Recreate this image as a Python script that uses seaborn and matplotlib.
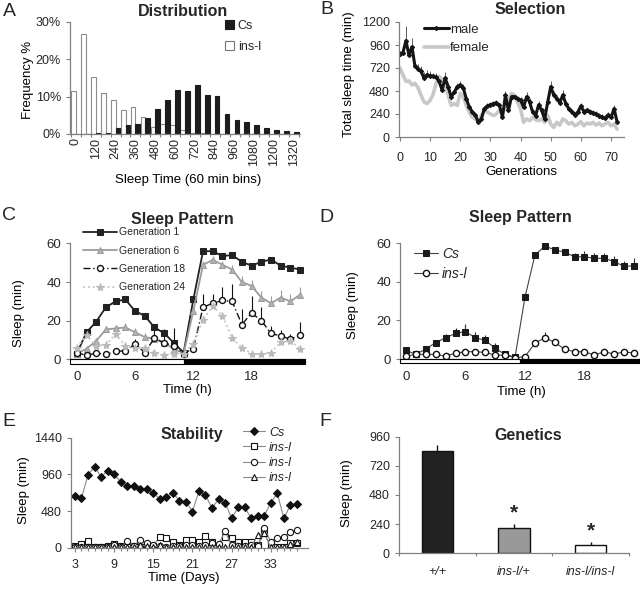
import matplotlib.pyplot as plt
import pandas as pd
import seaborn as sns
from matplotlib.patches import Rectangle


W, H = 640, 589
GRAY = "#808080"

# A: distribution of sleep time (60 min bins)
BINS = list(range(0, 1321, 60))
CS_FREQ = [0, 0, 0.3, 0.3, 1.5, 2.4, 2.6, 4.3, 6.6, 9.2, 11.9, 11.4, 13.0, 10.5,
           10.2, 5.3, 3.7, 3.2, 2.3, 1.5, 1.0, 0.8, 0.5]
INSL_FREQ = [11.4, 26.8, 15.2, 10.9, 9.0, 6.3, 7.2, 4.5, 2.0, 2.6, 2.4, 1.0, 0.2, 0.4,
             0, 0, 0, 0, 0, 0, 0, 0, 0]

# B: selection over generations
GENERATIONS = list(range(0, 73))
MALE_SLEEP = [870, 880, 1005, 855, 940, 738, 713, 685, 614, 650,
              640, 632, 625, 580, 490, 615, 525, 420, 465, 525,
              543, 515, 400, 312, 260, 230, 153, 188, 295, 323,
              337, 348, 358, 330, 205, 437, 277, 420, 420, 400,
              383, 312, 420, 365, 260, 224, 337, 277, 188, 365,
              525, 437, 400, 358, 437, 348, 295, 260, 230, 260,
              323, 266, 277, 266, 252, 241, 224, 205, 195, 230,
              205, 295, 160]
MALE_ERR = [30, 40, 150, 60, 90, 40, 50, 60, 60, 50,
            50, 40, 40, 40, 50, 60, 40, 40, 40, 40,
            40, 40, 30, 30, 30, 30, 20, 20, 30, 30,
            30, 30, 30, 30, 30, 40, 30, 30, 30, 30,
            30, 30, 50, 40, 30, 30, 40, 30, 30, 40,
            60, 40, 40, 40, 50, 30, 30, 30, 30, 30,
            30, 30, 30, 30, 30, 30, 30, 30, 30, 30,
            30, 40, 30]
FEMALE_SLEEP = [720, 650, 580, 585, 543, 560, 515, 437, 365, 348,
                383, 444, 560, 632, 596, 543, 437, 330, 348, 330,
                455, 420, 330, 260, 205, 188, 160, 224, 277, 260,
                241, 224, 241, 277, 252, 312, 383, 455, 437, 365,
                295, 153, 188, 170, 205, 181, 170, 188, 153, 224,
                135, 100, 153, 124, 188, 170, 135, 153, 117, 135,
                160, 117, 146, 135, 153, 124, 146, 117, 135, 153,
                117, 135, 82]

# C: sleep pattern by generation
HOURS = list(range(0, 24))
GEN1 = [3, 14, 19.5, 27, 30, 31, 25, 22.5, 16.5, 13.5, 8.5, 3.5,
        31, 56, 56, 53.5, 54, 50.5, 48.5, 50.5, 51.7, 48.5, 47.5, 46.5]
GEN1_ERR = [0, 1, 1.5, 1.5, 2, 2, 1.5, 1.5, 2, 2, 2, 1,
            2, 1, 1, 1, 1.5, 1.5, 1.5, 1.5, 1.5, 1.5, 1.5, 1.5]
GEN6 = [3, 5.5, 9.5, 15.5, 16, 16.5, 14, 11.5, 10.5, 8.5, 5.5, 3,
        25, 49, 51.5, 49, 46.5, 40, 38, 32, 29, 32, 30, 33.5]
GEN6_ERR = [1, 1, 1.5, 2, 2, 2.5, 2, 2, 2, 2, 2, 1,
            2, 2, 2, 2, 2.5, 3, 3, 3.5, 4, 4, 4, 4]
GEN18 = [3.5, 2, 3.3, 2.5, 4.2, 4.3, 8, 3.5, 11, 8.5, 7, 3,
         5.5, 27, 29, 30.5, 30, 18, 24, 20, 13.5, 12, 10.5, 12.5]
GEN18_ERR = [1, 1, 1, 1, 1, 1.5, 2.5, 2, 4, 4, 9, 1,
             2, 7, 5, 7, 9, 8, 9, 7, 4, 3, 2.5, 7]
GEN24 = [6, 12.5, 7, 7.5, 13, 7, 6, 6, 3.5, 2, 3, 3,
         8, 20.5, 27.5, 22.5, 11, 6, 3, 2.5, 3.5, 9, 9.5, 5.5]
GEN24_ERR = [1, 1, 1, 1, 2, 1, 1, 1, 1, 1, 1, 1,
             1, 2, 2, 2, 1.5, 1, 1, 1, 1, 1, 1, 1]
LIGHT_END_C = 11

# D: Cs vs ins-l sleep pattern
CS_HOURLY = [4.5, 2.4, 5.2, 8.5, 11, 13.3, 14.2, 11, 9.7, 5.5, 2.4, 1,
             32, 53.8, 58.6, 56.6, 55.4, 53, 53, 52.2, 52.2, 50.5, 48, 48.4]
CS_HOURLY_ERR = [1, 1, 1.5, 1.5, 2, 3, 4, 3, 3, 3, 1, 0.5,
                 2, 1, 1, 1, 1, 2, 3, 3, 3, 3, 3, 4]
INSL_HOURLY = [1.5, 2.4, 2.4, 2.4, 1.5, 3, 3.8, 3.8, 3.4, 2, 2, 0.7,
               1.2, 8.2, 11, 8.7, 5, 3.8, 3.8, 2, 3.8, 2.5, 3.8, 3]
INSL_HOURLY_ERR = [0.5, 0.5, 0.5, 0.5, 0.5, 0.5, 1, 1, 1, 0.5, 0.5, 0.3,
                   0.5, 1, 3, 1, 1, 0.5, 0.5, 0.5, 0.5, 0.5, 0.5, 0.5]
LIGHT_END_D = 11.5

# E: stability over days
DAYS = list(range(3, 38))
CS_DAILY = [681, 646, 952, 1061, 930, 1004, 961, 865, 808, 812,
            764, 764, 720, 633, 659, 720, 616, 603, 472, 742,
            690, 515, 638, 590, 384, 528, 528, 384, 419, 419,
            590, 712, 384, 559, 572]
INSL_SQ = [26, 44, 87, 10, 15, 20, 44, 25, 15, 20,
           15, 10, 25, 144, 122, 70, 35, 100, 100, 79,
           153, 70, 26, 144, 122, 70, 70, 70, 30, 188,
           15, 10, 10, 57, 57]
INSL_CI = [5, 5, 5, 5, 5, 5, 35, 5, 87, 25,
           100, 57, 35, 25, 5, 25, 25, 30, 30, 25,
           30, 57, 44, 218, 30, 25, 25, 35, 25, 262,
           70, 131, 144, 201, 227]
INSL_TR = [5, 5, 5, 5, 5, 5, 5, 10, 10, 10,
           35, 20, 5, 30, 10, 10, 5, 5, 10, 10,
           5, 5, 10, 10, 5, 5, 10, 10, 160, 190,
           5, 5, 10, 44, 70]

# F: genetics
GENOTYPES = ["+/+", "ins-l/+", "ins-l/ins-l"]
GENO_SLEEP = [845, 206, 68]
GENO_ERR = [46, 35, 22]
GENO_COLORS = ["#222222", "#999999", "#ffffff"]


def px_axes(fig, left, top, right, bottom):
    return fig.add_axes([left / W, 1 - bottom / H, (right - left) / W, (bottom - top) / H])


def style_axes(ax):
    sns.despine(ax=ax)
    for side in ("left", "bottom"):
        ax.spines[side].set_color(GRAY)
        ax.spines[side].set_linewidth(0.9)
    ax.tick_params(which="both", direction="out", color=GRAY, width=0.8, labelsize=9)
    ax.tick_params(which="major", length=3)
    ax.tick_params(which="minor", length=2.5)


def label_axes(ax, xlabel=None, xpos=None, ylabel=None, ypos=None):
    bb = ax.get_position()
    if ylabel:
        ax.set_ylabel(ylabel, fontsize=9.5)
        x_px, y_px = ypos
        ax.yaxis.set_label_coords((x_px / W - bb.x0) / bb.width, ((1 - y_px / H) - bb.y0) / bb.height)
    if xlabel:
        ax.set_xlabel(xlabel, fontsize=9.5)
        x_px, y_px = xpos
        ax.xaxis.set_label_coords((x_px / W - bb.x0) / bb.width, ((1 - y_px / H) - bb.y0) / bb.height)


def fig_text(fig, x_px, y_px, text, **kw):
    fig.text(x_px / W, 1 - y_px / H, text, ha="center", va="center", **kw)


def up_errors(ax, x, y, err, color, lw=0.8):
    ax.errorbar(x, y, yerr=[[0] * len(err), err], fmt="none", ecolor=color, elinewidth=lw, capsize=0, zorder=1)


def light_dark_bar(ax, light_end):
    x0, x1 = ax.get_xlim()
    ax.add_patch(Rectangle((x0, -2.2), light_end - x0, 2.2, facecolor="white", edgecolor="black",
                           linewidth=0.8, clip_on=False, zorder=5))
    ax.add_patch(Rectangle((light_end, -2.2), x1 - light_end, 2.2, facecolor="black", edgecolor="black",
                           linewidth=0.8, clip_on=False, zorder=5))


def plot_distribution(fig):
    ax = px_axes(fig, 70, 22, 300, 134)
    n = len(BINS)
    df = pd.DataFrame({
        "bin": BINS * 2,
        "freq": INSL_FREQ + CS_FREQ,
        "strain": ["ins-l"] * n + ["Cs"] * n,
    })
    sns.barplot(data=df, x="bin", y="freq", hue="strain", hue_order=["ins-l", "Cs"],
                palette={"ins-l": "white", "Cs": "#1c1c1c"}, width=0.95, linewidth=0.8, ax=ax)
    for patch in ax.containers[0]:
        patch.set_edgecolor("#8c8c8c")
    for patch in ax.containers[1]:
        patch.set_edgecolor("#1c1c1c")
    style_axes(ax)
    ax.set_ylim(0, 30)
    ax.set_yticks([0, 10, 20, 30])
    ax.set_yticklabels(["0%", "10%", "20%", "30%"])
    ax.set_xlim(-0.6, n - 0.4)
    ax.set_xticks(range(0, n, 2))
    ax.set_xticklabels([str(b) for b in BINS[::2]], rotation=90)
    ax.tick_params(axis="x", which="major", length=0, pad=3)
    ax.set_xticks([i + 0.5 for i in range(-1, n)], minor=True)
    handles, labels = ax.get_legend_handles_labels()
    order = [labels.index("Cs"), labels.index("ins-l")]
    leg = ax.legend([handles[i] for i in order], [labels[i] for i in order], frameon=False, fontsize=9,
                    loc="upper left", bbox_to_anchor=(0.675, 1.02), borderaxespad=0, borderpad=0,
                    handlelength=0.7, handleheight=0.7, handletextpad=0.3, labelspacing=0.7)
    leg.legend_handles[0].set_edgecolor("#1c1c1c")
    leg.legend_handles[1].set_edgecolor("#777777")
    leg.legend_handles[1].set_linewidth(0.8)
    label_axes(ax, "Sleep Time (60 min bins)", (188, 174), "Frequency %", (34, 80))
    fig_text(fig, 183, 11, "Distribution", fontsize=11.5, fontweight="bold")
    fig_text(fig, 9, 12, "A", fontsize=14)


def plot_selection(fig):
    ax = px_axes(fig, 399, 22, 624, 137)
    sns.lineplot(x=GENERATIONS, y=FEMALE_SLEEP, color="#c8c8c8", linewidth=2.6, label="female", ax=ax)
    up_errors(ax, GENERATIONS, MALE_SLEEP, MALE_ERR, "#444444", lw=0.6)
    sns.lineplot(x=GENERATIONS, y=MALE_SLEEP, color="#151515", linewidth=2.2, marker="D", markersize=2.2,
                 markeredgecolor="#151515", label="male", ax=ax)
    style_axes(ax)
    ax.set_xlim(-0.3, 74.3)
    ax.set_ylim(0, 1200)
    ax.set_xticks(range(0, 71, 10))
    ax.set_yticks(range(0, 1201, 240))
    ax.tick_params(axis="x", pad=8)
    handles, labels = ax.get_legend_handles_labels()
    ax.legend(handles[::-1], labels[::-1], frameon=False, fontsize=9.5, loc="upper left",
              bbox_to_anchor=(0.11, 0.985), borderaxespad=0, borderpad=0,
              handlelength=1.9, handletextpad=0.1, labelspacing=0.45)
    label_axes(ax, "Generations", (521, 166), "Total sleep time (min)", (355, 74))
    fig_text(fig, 530, 9, "Selection", fontsize=11.5, fontweight="bold")
    fig_text(fig, 327, 10, "B", fontsize=14)


def plot_generation_pattern(fig):
    ax = px_axes(fig, 70, 243.5, 305, 359.3)
    series = [
        ("Generation 1", GEN1, GEN1_ERR, dict(color="#222222", linewidth=1.3, marker="s", markersize=4.2,
                                              markerfacecolor="#222222", markeredgecolor="#222222")),
        ("Generation 6", GEN6, GEN6_ERR, dict(color="#9c9c9c", linewidth=1.3, marker="^", markersize=5,
                                              markerfacecolor="#b4b4b4", markeredgecolor="#9c9c9c")),
        ("Generation 18", GEN18, GEN18_ERR, dict(color="#111111", linewidth=1.0, linestyle=(0, (5, 2, 1, 2)),
                                                 marker="o", markersize=4.3, markerfacecolor="white",
                                                 markeredgecolor="#111111", markeredgewidth=1.0)),
        ("Generation 24", GEN24, GEN24_ERR, dict(color="#cccccc", linewidth=1.3, linestyle=(0, (1.2, 1.5)),
                                                 marker="*", markersize=6, markerfacecolor="#bbbbbb",
                                                 markeredgecolor="#bbbbbb")),
    ]
    for name, values, err, kws in series:
        up_errors(ax, HOURS, values, err, kws["color"] if name != "Generation 18" else "#111111")
        sns.lineplot(x=HOURS, y=values, label=name, ax=ax, **kws)
    style_axes(ax)
    ax.set_xlim(-0.7, 23.5)
    ax.set_ylim(0, 60)
    ax.set_xticks([0, 6, 12, 18])
    ax.set_xticks(HOURS, minor=True)
    ax.set_yticks([0, 20, 40, 60])
    ax.tick_params(axis="x", which="both", pad=5.5)
    ax.tick_params(labelsize=9.5)
    light_dark_bar(ax, LIGHT_END_C)
    ax.legend(frameon=False, fontsize=7.5, loc="upper left", bbox_to_anchor=(0.055, 1.14),
              borderaxespad=0, borderpad=0, handlelength=3.3, handletextpad=0.2, labelspacing=0.8)
    label_axes(ax, "Time (h)", (187, 384), "Sleep (min)", (25, 313))
    fig_text(fig, 182, 219, "Sleep Pattern", fontsize=11.5, fontweight="bold")
    fig_text(fig, 9, 216, "C", fontsize=14)


def plot_strain_pattern(fig):
    ax = px_axes(fig, 400, 243.3, 640, 359)
    up_errors(ax, HOURS, CS_HOURLY, CS_HOURLY_ERR, "#333333")
    up_errors(ax, HOURS, INSL_HOURLY, INSL_HOURLY_ERR, "#333333")
    sns.lineplot(x=HOURS, y=CS_HOURLY, color="#444444", linewidth=0.8, marker="s", markersize=5,
                 markerfacecolor="#1a1a1a", markeredgecolor="#1a1a1a", label="Cs", ax=ax)
    sns.lineplot(x=HOURS, y=INSL_HOURLY, color="#444444", linewidth=0.8, marker="o", markersize=4.5,
                 markerfacecolor="white", markeredgecolor="#111111", markeredgewidth=1.0, label="ins-l", ax=ax)
    style_axes(ax)
    ax.set_xlim(-0.6, 23.6)
    ax.set_ylim(0, 60)
    ax.set_xticks([0, 6, 12, 18])
    ax.set_xticks(HOURS, minor=True)
    ax.set_yticks([0, 20, 40, 60])
    ax.tick_params(axis="x", which="both", pad=5.5)
    ax.tick_params(labelsize=9.5)
    light_dark_bar(ax, LIGHT_END_D)
    ax.legend(frameon=False, loc="upper left", bbox_to_anchor=(0.06, 0.965),
              borderaxespad=0, borderpad=0, handlelength=1.7, handletextpad=0.3, labelspacing=0.4,
              prop={"style": "italic", "size": 10})
    label_axes(ax, "Time (h)", (521, 386), "Sleep (min)", (359, 305))
    fig_text(fig, 520, 218, "Sleep Pattern", fontsize=11.5, fontweight="bold")
    fig_text(fig, 326, 218, "D", fontsize=14)


def plot_stability(fig):
    ax = px_axes(fig, 71, 437.7, 308, 547.7)
    line = dict(color="#8a8a8a", linewidth=0.8)
    sns.lineplot(x=DAYS, y=CS_DAILY, marker="D", markersize=4.5, markerfacecolor="#111111",
                 markeredgecolor="#111111", label="Cs", ax=ax, **line)
    for values, marker in ((INSL_SQ, "s"), (INSL_CI, "o"), (INSL_TR, "^")):
        sns.lineplot(x=DAYS, y=values, marker=marker, markersize=4.5, markerfacecolor="white",
                     markeredgecolor="#111111", markeredgewidth=0.8, label="ins-l", ax=ax, **line)
    style_axes(ax)
    ax.set_xlim(2.4, 38.7)
    ax.set_ylim(0, 1440)
    ax.set_xticks(range(3, 34, 6))
    ax.set_xticks(DAYS, minor=True)
    ax.set_yticks([0, 480, 960, 1440])
    ax.tick_params(axis="x", which="both", pad=5)
    ax.legend(frameon=False, loc="upper left", bbox_to_anchor=(0.725, 1.10),
              borderaxespad=0, borderpad=0, handlelength=1.8, handletextpad=0.3, labelspacing=0.25,
              prop={"style": "italic", "size": 9})
    label_axes(ax, "Time (Days)", (184, 572), "Sleep (min)", (30, 490))
    fig_text(fig, 192, 435, "Stability", fontsize=11.5, fontweight="bold")
    fig_text(fig, 9, 422, "E", fontsize=14)


def plot_genetics(fig):
    ax = px_axes(fig, 399, 436.7, 629, 553.3)
    sns.barplot(x=GENOTYPES, y=GENO_SLEEP, hue=GENOTYPES, palette=GENO_COLORS, legend=False,
                width=0.41, edgecolor="#111111", linewidth=1.0, ax=ax)
    up_errors(ax, list(range(len(GENOTYPES))), GENO_SLEEP, GENO_ERR, "#111111", lw=1.0)
    for i in range(1, len(GENOTYPES)):
        ax.text(i, GENO_SLEEP[i] + GENO_ERR[i] + 15, "*", ha="center", va="bottom",
                fontsize=15, fontweight="bold")
    style_axes(ax)
    ax.set_xlim(-0.5, 2.5)
    ax.set_ylim(0, 960)
    ax.set_yticks(range(0, 961, 240))
    ax.set_xticks([-0.5, 0.5, 1.5, 2.5], minor=True)
    ax.tick_params(axis="x", which="major", length=0, pad=9)
    for label in ax.get_xticklabels():
        label.set_fontstyle("italic")
    ax.set_xlabel("")
    label_axes(ax, None, None, "Sleep (min)", (353, 493))
    fig_text(fig, 528, 435, "Genetics", fontsize=11.5, fontweight="bold")
    fig_text(fig, 325, 422, "F", fontsize=14)


def main():
    sns.set_theme(style="ticks")
    plt.rcParams["font.family"] = ["Liberation Sans", "DejaVu Sans"]
    plt.rcParams["axes.labelcolor"] = "black"
    fig = plt.figure(figsize=(W / 100, H / 100), dpi=100)
    plot_distribution(fig)
    plot_selection(fig)
    plot_generation_pattern(fig)
    plot_strain_pattern(fig)
    plot_stability(fig)
    plot_genetics(fig)
    fig.savefig("out.png", dpi=100)
    plt.close(fig)


if __name__ == "__main__":
    main()
